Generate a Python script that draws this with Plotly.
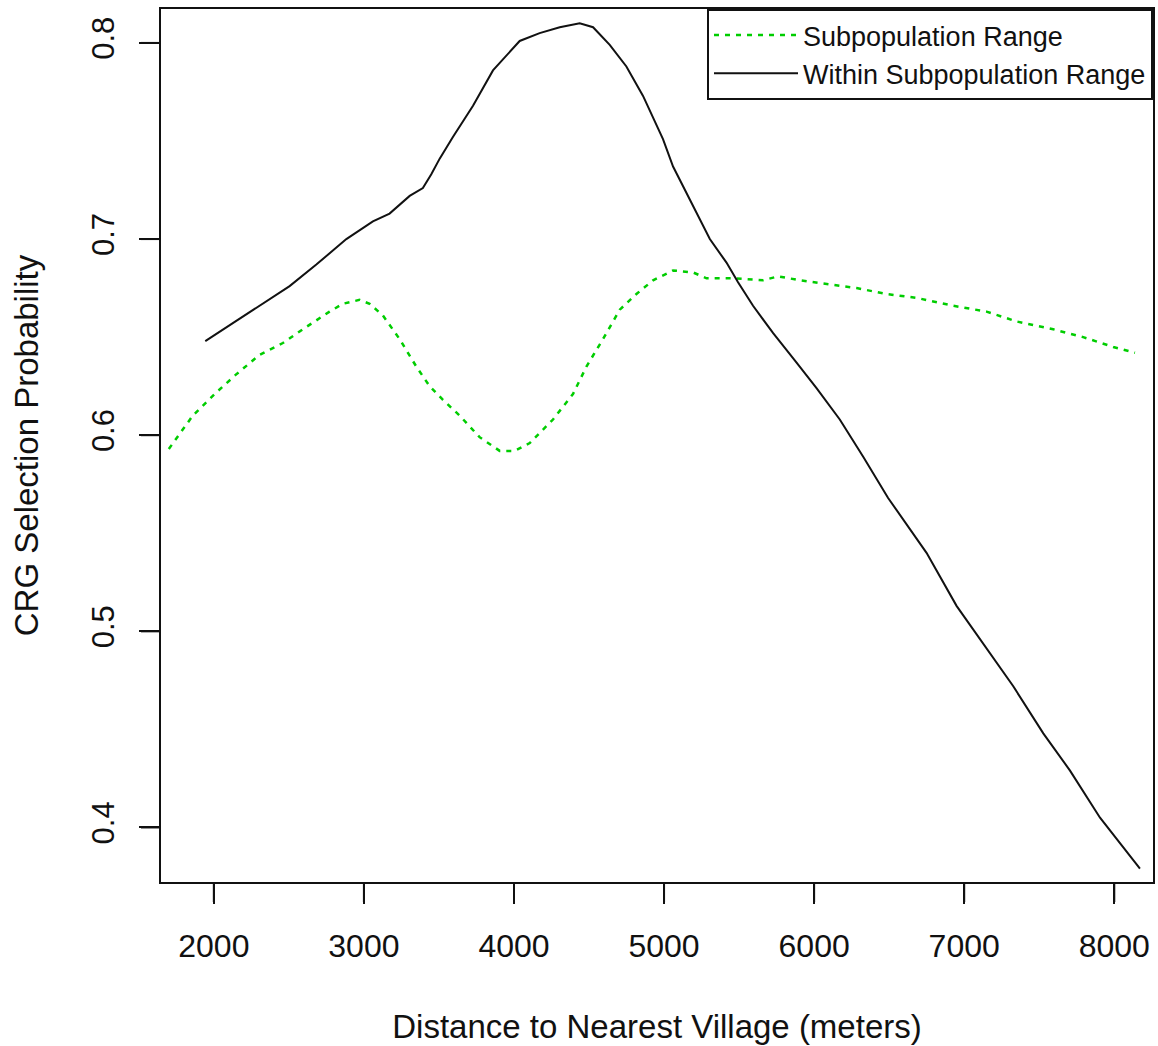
import plotly.graph_objects as go

# Within Subpopulation Range (black solid)
within_x = [1943, 2083, 2260, 2505, 2683, 2883, 3060, 3171, 3305, 3393, 3449, 3505,
            3593, 3727, 3860, 4038, 4171, 4305, 4438, 4527, 4638, 4749, 4860, 4993,
            5060, 5193, 5305, 5416, 5493, 5593, 5727, 5883, 6016, 6171, 6327, 6493,
            6749, 6949, 7149, 7327, 7527, 7705, 7905, 8171]
within_y = [0.648, 0.655, 0.664, 0.676, 0.687, 0.700, 0.709, 0.713, 0.722, 0.726, 0.733, 0.741,
            0.752, 0.768, 0.786, 0.801, 0.805, 0.808, 0.810, 0.808, 0.799, 0.788, 0.773, 0.751,
            0.737, 0.717, 0.700, 0.688, 0.678, 0.666, 0.652, 0.637, 0.624, 0.608, 0.589, 0.568,
            0.540, 0.513, 0.491, 0.472, 0.448, 0.429, 0.405, 0.379]

# Subpopulation Range (green dotted)
subpop_x = [1700, 1860, 2005, 2149, 2305, 2460, 2593, 2771, 2860, 2971, 3038, 3127,
            3238, 3349, 3438, 3527, 3638, 3771, 3905, 4005, 4105, 4260, 4393, 4483,
            4593, 4705, 4816, 4927, 5060, 5193, 5283, 5460, 5660, 5760, 5905, 6083,
            6283, 6483, 6683, 6927, 7149, 7349, 7593, 7793, 7993, 8138]
subpop_y = [0.593, 0.610, 0.621, 0.631, 0.641, 0.647, 0.654, 0.663, 0.667, 0.669, 0.667, 0.661,
            0.649, 0.635, 0.625, 0.618, 0.610, 0.599, 0.592, 0.592, 0.596, 0.608, 0.621, 0.635,
            0.649, 0.664, 0.672, 0.679, 0.684, 0.683, 0.680, 0.680, 0.679, 0.681, 0.679, 0.677,
            0.675, 0.672, 0.670, 0.666, 0.663, 0.658, 0.654, 0.650, 0.645, 0.642]

x_ticks = [2000, 3000, 4000, 5000, 6000, 7000, 8000]
y_ticks = [0.4, 0.5, 0.6, 0.7, 0.8]
y_tick_text = ["0.4", "0.5", "0.6", "0.7", "0.8"]

X_RANGE = [1648, 8258]
Y_RANGE = [0.3722, 0.8173]

FONT = "Liberation Sans, Arial, sans-serif"
INK = "#111111"

W, H = 1158, 1046
ML, MR, MT, MB = 161, 5, 9, 164
TICK_LEN = 20
plot_w = W - ML - MR
plot_h = H - MT - MB


def to_paper(v, rng):
    return (v - rng[0]) / (rng[1] - rng[0])


fig = go.Figure()
fig.add_trace(go.Scatter(
    x=subpop_x, y=subpop_y, mode="lines", name="Subpopulation Range",
    line=dict(color="#00cd00", width=2.5, dash="5px,6px"),
))
fig.add_trace(go.Scatter(
    x=within_x, y=within_y, mode="lines", name="Within Subpopulation Range",
    line=dict(color=INK, width=2),
))

# outside tick marks, positioned from the tick values and the axis ranges
for tv in x_ticks:
    px = to_paper(tv, X_RANGE)
    fig.add_shape(type="line", xref="paper", yref="paper",
                  x0=px, x1=px, y0=0, y1=-TICK_LEN / plot_h,
                  line=dict(color=INK, width=2), layer="above")
for tv in y_ticks:
    py = to_paper(tv, Y_RANGE)
    fig.add_shape(type="line", xref="paper", yref="paper",
                  x0=0, x1=-TICK_LEN / plot_w, y0=py, y1=py,
                  line=dict(color=INK, width=2), layer="above")

fig.update_layout(
    width=W, height=H,
    margin=dict(l=ML, r=MR, t=MT, b=MB, pad=0, autoexpand=False),
    paper_bgcolor="white", plot_bgcolor="white",
    font=dict(family=FONT, color=INK),
    showlegend=True,
    legend=dict(
        x=1, y=1, xanchor="right", yanchor="top",
        bordercolor=INK, borderwidth=2, bgcolor="white",
        font=dict(size=27, family=FONT, color=INK),
        itemwidth=84, tracegroupgap=0,
    ),
    xaxis=dict(
        range=X_RANGE, tickmode="array", tickvals=x_ticks,
        ticks="outside", ticklen=TICK_LEN, tickwidth=2, tickcolor=INK,
        showline=True, linewidth=2, linecolor=INK, mirror=True,
        showgrid=False, zeroline=False, automargin=False,
        tickfont=dict(size=32, family=FONT, color=INK),
        ticklabelstandoff=15,
        title=dict(text="Distance to Nearest Village (meters)",
                   font=dict(size=33, family=FONT, color=INK), standoff=51),
    ),
    yaxis=dict(
        range=Y_RANGE, tickmode="array", tickvals=y_ticks, ticktext=y_tick_text,
        ticks="outside", ticklen=TICK_LEN, tickwidth=2, tickcolor=INK,
        showline=True, linewidth=2, linecolor=INK, mirror=True,
        showgrid=False, zeroline=False, tickangle=-90, automargin=False,
        tickfont=dict(size=31, family=FONT, color=INK),
        ticklabelstandoff=13,
        title=dict(text="CRG Selection Probability",
                   font=dict(size=33, family=FONT, color=INK), standoff=37),
    ),
)

fig.write_html("out.html")
